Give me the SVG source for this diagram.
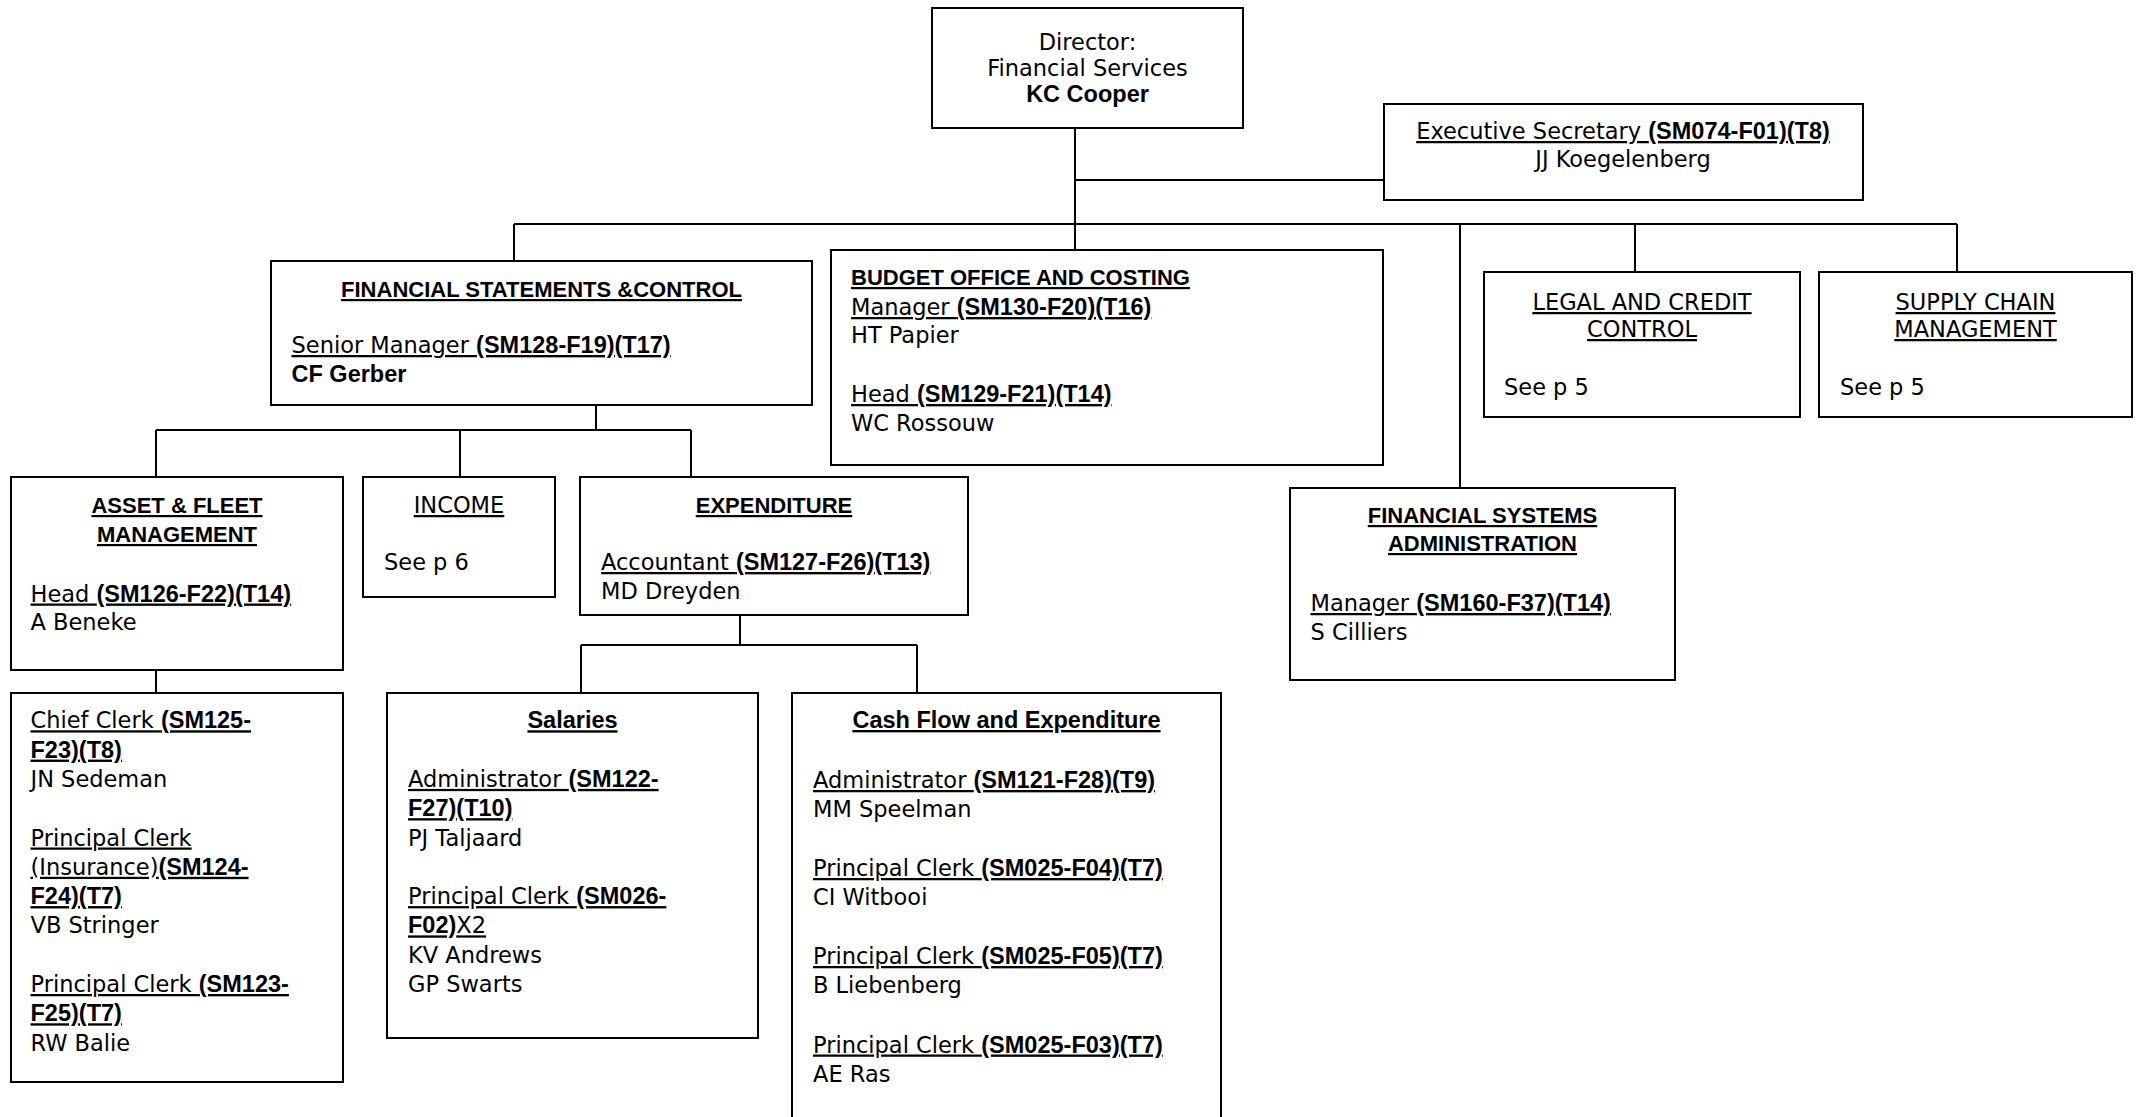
<svg xmlns="http://www.w3.org/2000/svg" width="2143" height="1117" viewBox="0 0 2143 1117">
<style>
.box{fill:#fff;stroke:#000;stroke-width:2}
.ln{fill:none;stroke:#000;stroke-width:2}
text{font-family:"DejaVu Sans",sans-serif;font-size:22.5px;fill:#000}
.b{font-family:"Liberation Sans",Arial,sans-serif;font-weight:bold;font-size:23.5px}
.h{font-family:"Liberation Sans",Arial,sans-serif;font-weight:bold;font-size:22px}
.u{text-decoration:underline}
.c{text-anchor:middle}
</style>
<rect width="2143" height="1117" fill="#fff"/>
<g id="connectors">
<path class="ln" d="M1075,128V250M1075,180H1384M514,224H1957M514,224V261M1460,224V488M1635,224V272M1957,224V272"/>
<path class="ln" d="M596,405V430M156,430H691M156,430V477M460,430V477M691,430V477M156,670V693"/>
<path class="ln" d="M740,615V645M581,645H917M581,645V693M917,645V693"/>
</g>
<g id="director">
<rect class="box" x="932" y="8" width="311" height="120"/>
<text class="c" x="1087.5" y="50">Director:</text>
<text class="c" x="1087.5" y="76">Financial Services</text>
<text class="c b" x="1087.5" y="101.5">KC Cooper</text>
</g>
<g id="exec-secretary">
<rect class="box" x="1384" y="104" width="479" height="96"/>
<text class="c u" x="1623" y="139">Executive Secretary <tspan class="b">(SM074-F01)(T8)</tspan></text>
<text class="c" x="1623" y="167">JJ Koegelenberg</text>
</g>
<g id="fsc">
<rect class="box" x="271" y="261" width="541" height="144"/>
<text class="c u h" x="541.5" y="297">FINANCIAL STATEMENTS &amp;CONTROL</text>
<text class="u" x="291.5" y="353">Senior Manager <tspan class="b">(SM128-F19)(T17)</tspan></text>
<text class="b" x="291.5" y="382">CF Gerber</text>
</g>
<g id="budget">
<rect class="box" x="831" y="250" width="552" height="215"/>
<text class="u h" x="851" y="285">BUDGET OFFICE AND COSTING</text>
<text class="u" x="851" y="315">Manager <tspan class="b">(SM130-F20)(T16)</tspan></text>
<text x="851" y="343">HT Papier</text>
<text class="u" x="851" y="402">Head <tspan class="b">(SM129-F21)(T14)</tspan></text>
<text x="851" y="431">WC Rossouw</text>
</g>
<g id="legal">
<rect class="box" x="1484" y="272" width="316" height="145"/>
<text class="c u" x="1642" y="310">LEGAL AND CREDIT</text>
<text class="c u" x="1642" y="337">CONTROL</text>
<text x="1504" y="395">See p 5</text>
</g>
<g id="supply">
<rect class="box" x="1819" y="272" width="313" height="145"/>
<text class="c u" x="1975.5" y="310">SUPPLY CHAIN</text>
<text class="c u" x="1975.5" y="337">MANAGEMENT</text>
<text x="1840" y="395">See p 5</text>
</g>
<g id="fsa">
<rect class="box" x="1290" y="488" width="385" height="192"/>
<text class="c u h" x="1482.5" y="523">FINANCIAL SYSTEMS</text>
<text class="c u h" x="1482.5" y="551">ADMINISTRATION</text>
<text class="u" x="1310.5" y="611">Manager <tspan class="b">(SM160-F37)(T14)</tspan></text>
<text x="1310.5" y="640">S Cilliers</text>
</g>
<g id="asset">
<rect class="box" x="11" y="477" width="332" height="193"/>
<text class="c u h" x="177" y="513">ASSET &amp; FLEET</text>
<text class="c u h" x="177" y="542">MANAGEMENT</text>
<text class="u" x="30.5" y="601.5">Head <tspan class="b">(SM126-F22)(T14)</tspan></text>
<text x="30.5" y="630">A Beneke</text>
</g>
<g id="income">
<rect class="box" x="363" y="477" width="192" height="120"/>
<text class="c u" x="459" y="513">INCOME</text>
<text x="384" y="570">See p 6</text>
</g>
<g id="expenditure">
<rect class="box" x="580" y="477" width="388" height="138"/>
<text class="c u h" x="774" y="513">EXPENDITURE</text>
<text class="u" x="601" y="570">Accountant <tspan class="b">(SM127-F26)(T13)</tspan></text>
<text x="601" y="599">MD Dreyden</text>
</g>
<g id="asset-staff">
<rect class="box" x="11" y="693" width="332" height="389"/>
<text class="u" x="30.5" y="728.3">Chief Clerk <tspan class="b">(SM125-</tspan></text>
<text class="u b" x="30.5" y="757.6">F23)(T8)</text>
<text x="30.5" y="786.9">JN Sedeman</text>
<text class="u" x="30.5" y="845.5">Principal Clerk</text>
<text class="u" x="30.5" y="874.8">(Insurance)<tspan class="b">(SM124-</tspan></text>
<text class="u b" x="30.5" y="904.1">F24)(T7)</text>
<text x="30.5" y="933.4">VB Stringer</text>
<text class="u" x="30.5" y="992">Principal Clerk <tspan class="b">(SM123-</tspan></text>
<text class="u b" x="30.5" y="1021.3">F25)(T7)</text>
<text x="30.5" y="1050.6">RW Balie</text>
</g>
<g id="salaries">
<rect class="box" x="387" y="693" width="371" height="345"/>
<text class="c u b" x="572.5" y="728.3">Salaries</text>
<text class="u" x="408" y="786.9">Administrator <tspan class="b">(SM122-</tspan></text>
<text class="u b" x="408" y="816.2">F27)(T10)</text>
<text x="408" y="845.5">PJ Taljaard</text>
<text class="u" x="408" y="904.1">Principal Clerk <tspan class="b">(SM026-</tspan></text>
<text class="u" x="408" y="933.4"><tspan class="b">F02)</tspan>X2</text>
<text x="408" y="962.7">KV Andrews</text>
<text x="408" y="992">GP Swarts</text>
</g>
<g id="cashflow">
<rect class="box" x="792" y="693" width="429" height="440"/>
<text class="c u b" x="1006.5" y="728">Cash Flow and Expenditure</text>
<text class="u" x="813" y="788">Administrator <tspan class="b">(SM121-F28)(T9)</tspan></text>
<text x="813" y="817">MM Speelman</text>
<text class="u" x="813" y="876">Principal Clerk <tspan class="b">(SM025-F04)(T7)</tspan></text>
<text x="813" y="905">CI Witbooi</text>
<text class="u" x="813" y="964">Principal Clerk <tspan class="b">(SM025-F05)(T7)</tspan></text>
<text x="813" y="993">B Liebenberg</text>
<text class="u" x="813" y="1052.5">Principal Clerk <tspan class="b">(SM025-F03)(T7)</tspan></text>
<text x="813" y="1081.5">AE Ras</text>
</g>
</svg>
